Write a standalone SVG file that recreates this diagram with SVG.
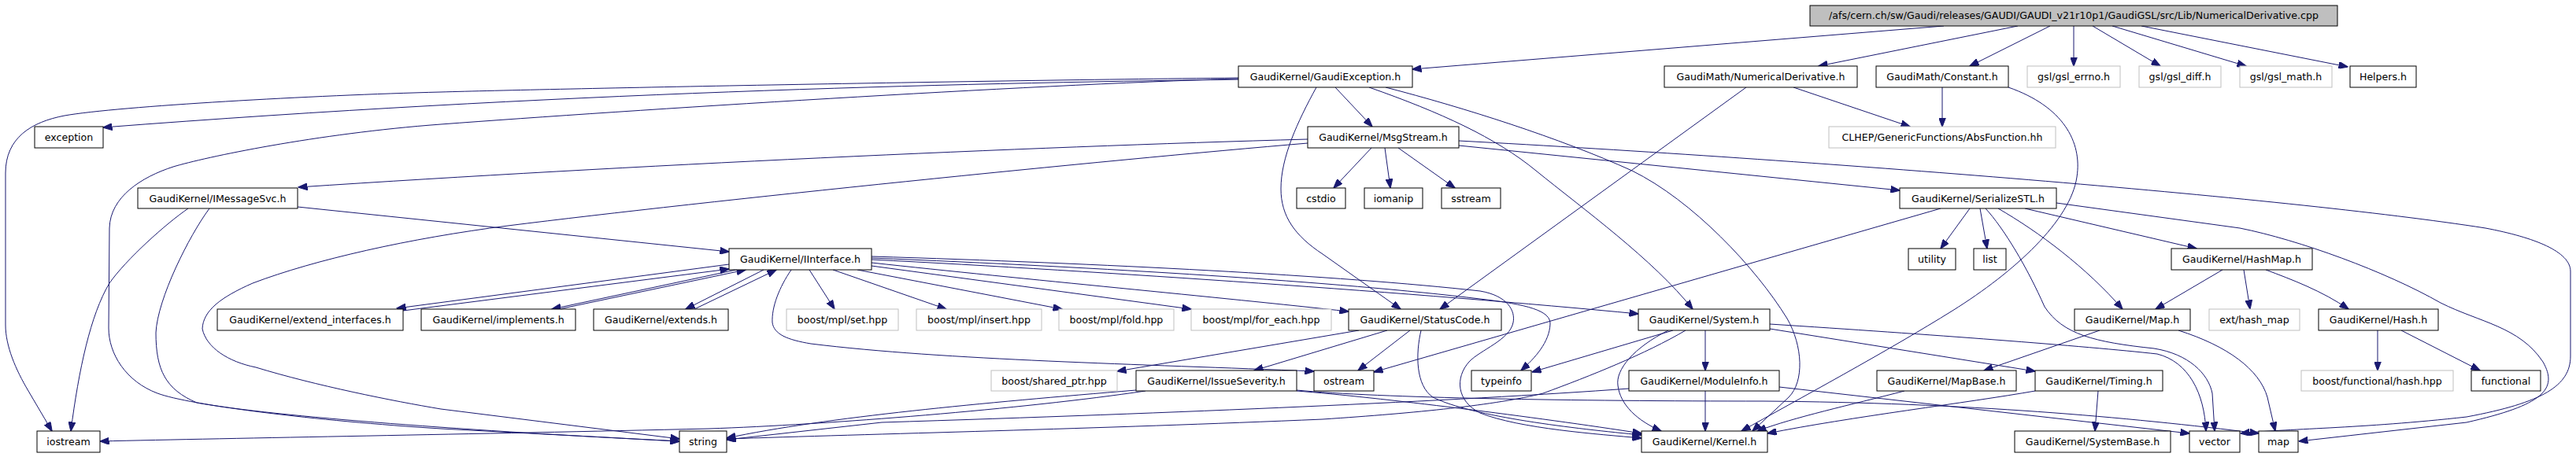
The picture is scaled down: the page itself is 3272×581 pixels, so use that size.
<svg xmlns="http://www.w3.org/2000/svg" width="3272" height="581" viewBox="0 0 3272 581">
<style>
.n rect{fill:#fff;stroke:#000;stroke-width:1}
.g rect{fill:#fff;stroke:#bfbfbf;stroke-width:1}
.r rect{fill:#bfbfbf;stroke:#000;stroke-width:1}
text{font-family:"DejaVu Sans","Liberation Sans",sans-serif;font-size:12.6px;fill:#000;text-anchor:middle}
#edges path{fill:none;stroke:#191970;stroke-width:1;marker-end:url(#ah)}
</style>
<defs>
<marker id="ah" markerUnits="userSpaceOnUse" markerWidth="12" markerHeight="9" refX="11.5" refY="4.5" orient="auto">
<path d="M0,0 L12,4.5 L0,9 z" fill="#191970" stroke="#191970" stroke-width="1"/>
</marker>
</defs>
<rect width="3272" height="581" fill="#fff"/>
<g id="edges">
<path d="M2469,33 L1794,88"/>
<path d="M2563,33 L2310,84"/>
<path d="M2604,33 L2502,84"/>
<path d="M2634,33 L2634,84"/>
<path d="M2658,33 L2744,84"/>
<path d="M2683,33 L2853,84"/>
<path d="M2720,33 L2982,85"/>
<path d="M1573,101 C1200,106 700,118 131,162"/>
<path d="M1573,99 C1200,103 700,113 560,117 C400,121 150,135 82,147 C40,155 7,175 7,220 L7,413 C7,440 20,470 36,497 L66,548"/>
<path d="M1573,100 C1300,108 800,140 560,158 C400,170 260,200 220,212 C180,225 140,250 139,290 L138,417 C138,450 160,485 200,500 C240,515 400,535 560,545 L863,561"/>
<path d="M1696,111 L1743,161"/>
<path d="M1739,111 C1830,143 1900,175 1951,217 C2010,265 2100,330 2150,393"/>
<path d="M1760,111 C1860,137 1980,175 2073,217 C2150,255 2230,340 2270,405 C2290,440 2292,485 2272,505 L2226,548"/>
<path d="M1672,111 C1648,155 1627,200 1627,240 C1627,275 1645,300 1680,323 L1779,393"/>
<path d="M2278,111 L2426,161"/>
<path d="M2218,111 L1829,393"/>
<path d="M2467,111 L2467,161"/>
<path d="M2551,111 C2620,135 2645,180 2638,225 C2630,280 2560,345 2480,395 C2400,445 2280,510 2212,548"/>
<path d="M1742,188 L1694,239"/>
<path d="M1759,188 L1766,239"/>
<path d="M1776,188 L1848,239"/>
<path d="M1661,177 C1300,187 800,210 379,238"/>
<path d="M1661,182 C1400,204 900,255 645,287 C520,303 400,330 321,360 C280,378 258,395 257,418 C262,442 290,460 325,467 C400,490 500,510 560,520 L863,558"/>
<path d="M1853,185 L2413,242"/>
<path d="M1853,179 C2300,203 2900,250 3157,290 C3220,302 3265,320 3265,345 L3265,453 C3265,490 3230,512 3133,530 C3000,545 2900,545 2846,551"/>
<path d="M2465,265 L1745,473"/>
<path d="M2502,265 L2465,316"/>
<path d="M2515,265 L2524,316"/>
<path d="M2538,265 C2590,295 2650,340 2696,393"/>
<path d="M2572,265 L2790,316"/>
<path d="M2522,265 C2545,290 2575,340 2597,390 C2620,425 2660,435 2736,443 C2780,450 2805,475 2810,500 L2813,548"/>
<path d="M2612,258 L2845,290 C2920,305 3030,345 3100,385 C3150,410 3200,415 3230,460 C3250,495 3230,515 3133,537 L2920,561"/>
<path d="M378,263 L926,320"/>
<path d="M239,265 C210,285 160,330 139,360 C115,400 100,470 90,548"/>
<path d="M266,265 C240,300 200,380 198,423 C198,470 210,495 250,512 C350,530 600,548 863,561"/>
<path d="M926,336 L504,392"/>
<path d="M512,395 L926,342"/>
<path d="M935,343 L701,393"/>
<path d="M710,393 L947,343"/>
<path d="M970,343 L871,393"/>
<path d="M882,393 L986,343"/>
<path d="M1028,343 L1060,393"/>
<path d="M1058,343 L1202,393"/>
<path d="M1089,343 L1349,393"/>
<path d="M1107,338 L1513,393"/>
<path d="M1005,343 C990,365 980,390 981,410 C983,425 1000,432 1030,437 C1200,458 1450,463 1669,472"/>
<path d="M1107,334 C1300,355 1550,378 1713,396"/>
<path d="M1107,330 C1400,345 1800,372 2081,399"/>
<path d="M1107,328 C1400,340 1700,358 1880,380 C1940,387 1970,395 1969,412 C1968,435 1950,455 1932,471"/>
<path d="M1107,326 C1400,335 1700,350 1880,370 C1915,376 1925,395 1922,410 C1918,432 1880,445 1866,460 C1848,480 1850,510 1880,525 C1930,545 2030,552 2085,557"/>
<path d="M1726,420 L1419,472"/>
<path d="M1762,420 L1593,471"/>
<path d="M1791,420 L1725,471"/>
<path d="M1805,420 C1798,450 1798,490 1820,505 C1870,530 2000,545 2085,553"/>
<path d="M2166,420 L2166,471"/>
<path d="M2125,420 L1946,473"/>
<path d="M2119,420 C2075,442 2052,470 2055,490 C2058,515 2080,535 2110,548"/>
<path d="M2141,420 C2090,450 2020,478 1960,500 C1900,515 1800,525 1680,533 C1400,545 1100,552 923,558"/>
<path d="M2166,497 L2166,548"/>
<path d="M2069,494 C1850,510 1500,525 1120,537 L923,559"/>
<path d="M2260,492 L2781,551"/>
<path d="M1443,496 C1250,512 1050,530 923,557"/>
<path d="M1455,497 C1300,520 1050,540 900,545 C600,552 300,557 127,561"/>
<path d="M1647,497 C1750,505 1950,530 2085,551"/>
<path d="M1647,496 C1750,506 2000,510 2240,510 C2500,512 2700,530 2869,551"/>
<path d="M2419,497 C2350,515 2280,530 2232,548"/>
<path d="M2667,420 L2520,471"/>
<path d="M2767,420 C2830,440 2870,470 2880,505 L2890,548"/>
<path d="M2665,497 L2661,548"/>
<path d="M2585,497 C2500,512 2350,530 2245,551"/>
<path d="M2248,418 L2585,472"/>
<path d="M2248,412 C2450,425 2650,440 2740,450 C2780,460 2800,500 2802,548"/>
<path d="M2823,343 L2738,393"/>
<path d="M2850,343 L2858,393"/>
<path d="M2878,343 C2910,355 2950,370 2983,393"/>
<path d="M3020,420 L3020,471"/>
<path d="M3050,420 L3150,471"/>
</g>
<g id="nodes">
<g id="root" class="r"><rect x="2299" y="7" width="670" height="26"/><text x="2634" y="24">/afs/cern.ch/sw/Gaudi/releases/GAUDI/GAUDI_v21r10p1/GaudiGSL/src/Lib/NumericalDerivative.cpp</text></g>
<g id="gaudiexception" class="n"><rect x="1573" y="84" width="221" height="27"/><text x="1683.5" y="101.5">GaudiKernel/GaudiException.h</text></g>
<g id="numericalderivative" class="n"><rect x="2114" y="84" width="245" height="27"/><text x="2236.5" y="101.5">GaudiMath/NumericalDerivative.h</text></g>
<g id="constant" class="n"><rect x="2383" y="84" width="168" height="27"/><text x="2467" y="101.5">GaudiMath/Constant.h</text></g>
<g id="gsl_errno" class="g"><rect x="2575" y="84" width="118" height="27"/><text x="2634" y="101.5">gsl/gsl_errno.h</text></g>
<g id="gsl_diff" class="g"><rect x="2717" y="84" width="104" height="27"/><text x="2769" y="101.5">gsl/gsl_diff.h</text></g>
<g id="gsl_math" class="g"><rect x="2845" y="84" width="117" height="27"/><text x="2903.5" y="101.5">gsl/gsl_math.h</text></g>
<g id="helpers" class="n"><rect x="2985" y="84" width="84" height="27"/><text x="3027" y="101.5">Helpers.h</text></g>
<g id="exception" class="n"><rect x="44" y="161" width="87" height="27"/><text x="87.5" y="178.5">exception</text></g>
<g id="msgstream" class="n"><rect x="1661" y="161" width="192" height="27"/><text x="1757" y="178.5">GaudiKernel/MsgStream.h</text></g>
<g id="absfunction" class="g"><rect x="2323" y="161" width="288" height="27"/><text x="2467" y="178.5">CLHEP/GenericFunctions/AbsFunction.hh</text></g>
<g id="imessagesvc" class="n"><rect x="175" y="239" width="203" height="26"/><text x="276.5" y="256.5">GaudiKernel/IMessageSvc.h</text></g>
<g id="cstdio" class="n"><rect x="1647" y="239" width="62" height="26"/><text x="1678" y="256.5">cstdio</text></g>
<g id="iomanip" class="n"><rect x="1733" y="239" width="74" height="26"/><text x="1770" y="256.5">iomanip</text></g>
<g id="sstream" class="n"><rect x="1831" y="239" width="75" height="26"/><text x="1868.5" y="256.5">sstream</text></g>
<g id="serializestl" class="n"><rect x="2413" y="239" width="199" height="26"/><text x="2512.5" y="256.5">GaudiKernel/SerializeSTL.h</text></g>
<g id="iinterface" class="n"><rect x="926" y="316" width="181" height="27"/><text x="1016.5" y="333.5">GaudiKernel/IInterface.h</text></g>
<g id="utility" class="n"><rect x="2424" y="316" width="60" height="27"/><text x="2454" y="333.5">utility</text></g>
<g id="list" class="n"><rect x="2507" y="316" width="41" height="27"/><text x="2527.5" y="333.5">list</text></g>
<g id="hashmap" class="n"><rect x="2758" y="316" width="179" height="27"/><text x="2847.5" y="333.5">GaudiKernel/HashMap.h</text></g>
<g id="extend_interfaces" class="n"><rect x="276" y="393" width="236" height="27"/><text x="394" y="410.5">GaudiKernel/extend_interfaces.h</text></g>
<g id="implements" class="n"><rect x="535" y="393" width="196" height="27"/><text x="633" y="410.5">GaudiKernel/implements.h</text></g>
<g id="extends" class="n"><rect x="754" y="393" width="171" height="27"/><text x="839.5" y="410.5">GaudiKernel/extends.h</text></g>
<g id="mpl_set" class="g"><rect x="999" y="393" width="142" height="27"/><text x="1070" y="410.5">boost/mpl/set.hpp</text></g>
<g id="mpl_insert" class="g"><rect x="1164" y="393" width="159" height="27"/><text x="1243.5" y="410.5">boost/mpl/insert.hpp</text></g>
<g id="mpl_fold" class="g"><rect x="1345" y="393" width="146" height="27"/><text x="1418" y="410.5">boost/mpl/fold.hpp</text></g>
<g id="mpl_for_each" class="g"><rect x="1513" y="393" width="178" height="27"/><text x="1602" y="410.5">boost/mpl/for_each.hpp</text></g>
<g id="statuscode" class="n"><rect x="1713" y="393" width="194" height="27"/><text x="1810" y="410.5">GaudiKernel/StatusCode.h</text></g>
<g id="system" class="n"><rect x="2081" y="393" width="167" height="27"/><text x="2164.5" y="410.5">GaudiKernel/System.h</text></g>
<g id="map_h" class="n"><rect x="2635" y="393" width="147" height="27"/><text x="2708.5" y="410.5">GaudiKernel/Map.h</text></g>
<g id="ext_hash_map" class="g"><rect x="2806" y="393" width="115" height="27"/><text x="2863.5" y="410.5">ext/hash_map</text></g>
<g id="hash_h" class="n"><rect x="2945" y="393" width="152" height="27"/><text x="3021" y="410.5">GaudiKernel/Hash.h</text></g>
<g id="shared_ptr" class="g"><rect x="1259" y="471" width="160" height="26"/><text x="1339" y="488.5">boost/shared_ptr.hpp</text></g>
<g id="issueseverity" class="n"><rect x="1443" y="471" width="204" height="26"/><text x="1545" y="488.5">GaudiKernel/IssueSeverity.h</text></g>
<g id="ostream" class="n"><rect x="1669" y="471" width="76" height="26"/><text x="1707" y="488.5">ostream</text></g>
<g id="typeinfo" class="n"><rect x="1869" y="471" width="76" height="26"/><text x="1907" y="488.5">typeinfo</text></g>
<g id="moduleinfo" class="n"><rect x="2069" y="471" width="191" height="26"/><text x="2164.5" y="488.5">GaudiKernel/ModuleInfo.h</text></g>
<g id="mapbase" class="n"><rect x="2384" y="471" width="177" height="26"/><text x="2472.5" y="488.5">GaudiKernel/MapBase.h</text></g>
<g id="timing" class="n"><rect x="2585" y="471" width="162" height="26"/><text x="2666" y="488.5">GaudiKernel/Timing.h</text></g>
<g id="functional_hash" class="g"><rect x="2923" y="471" width="193" height="26"/><text x="3019.5" y="488.5">boost/functional/hash.hpp</text></g>
<g id="functional" class="n"><rect x="3139" y="471" width="88" height="26"/><text x="3183" y="488.5">functional</text></g>
<g id="iostream" class="n"><rect x="47" y="548" width="80" height="27"/><text x="87" y="565.5">iostream</text></g>
<g id="string" class="n"><rect x="863" y="548" width="60" height="27"/><text x="893" y="565.5">string</text></g>
<g id="kernel" class="n"><rect x="2085" y="548" width="160" height="27"/><text x="2165" y="565.5">GaudiKernel/Kernel.h</text></g>
<g id="systembase" class="n"><rect x="2559" y="548" width="198" height="27"/><text x="2658" y="565.5">GaudiKernel/SystemBase.h</text></g>
<g id="vector" class="n"><rect x="2781" y="548" width="64" height="27"/><text x="2813" y="565.5">vector</text></g>
<g id="map" class="n"><rect x="2869" y="548" width="50" height="27"/><text x="2894" y="565.5">map</text></g>
</g>
</svg>
